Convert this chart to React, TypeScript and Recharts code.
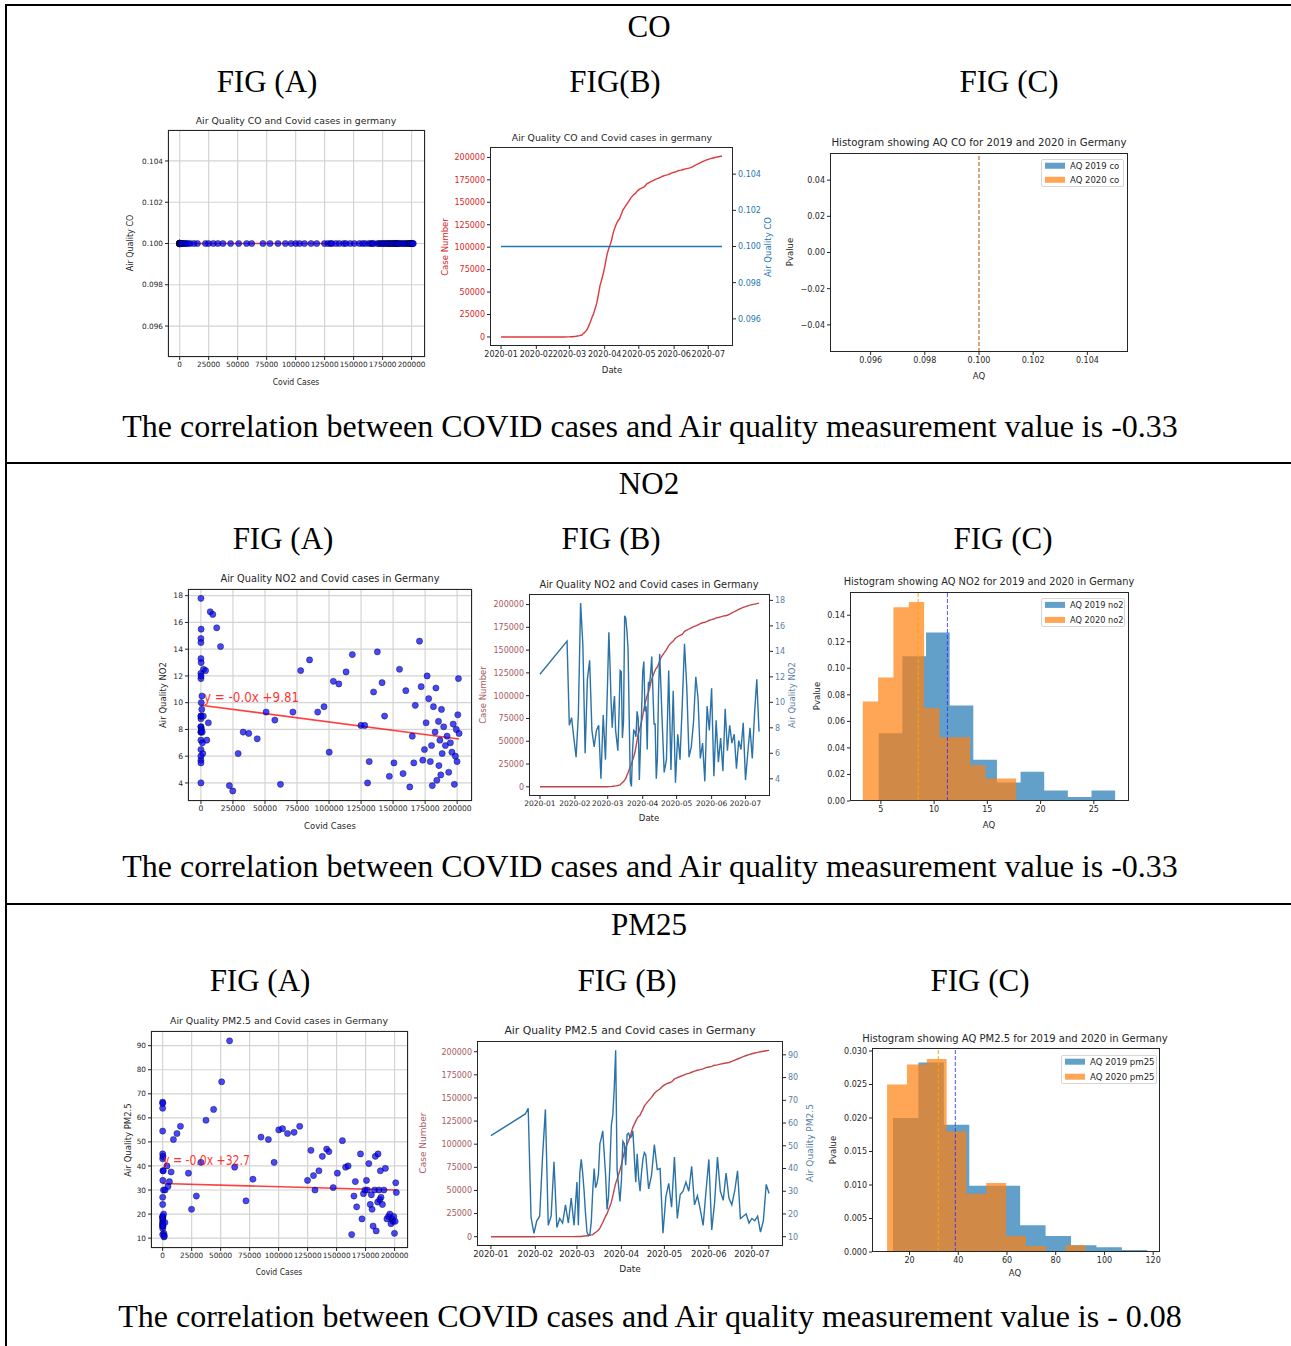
import React from "react"
import { ComposedChart, Scatter, Line, Area, XAxis, YAxis, CartesianGrid } from "recharts"

// sampled dates of the air quality series (Germany, 2020)
const dates = [
  "2020-01-01", "2020-01-25", "2020-01-27", "2020-01-29", "2020-01-31",
  "2020-02-02", "2020-02-04", "2020-02-06", "2020-02-08", "2020-02-10", "2020-02-12", "2020-02-14",
  "2020-02-16", "2020-02-18", "2020-02-20", "2020-02-22", "2020-02-24", "2020-02-26", "2020-02-28",
  "2020-03-01", "2020-03-02", "2020-03-03", "2020-03-04", "2020-03-05", "2020-03-06", "2020-03-07",
  "2020-03-08", "2020-03-09", "2020-03-10", "2020-03-11", "2020-03-12", "2020-03-13", "2020-03-14",
  "2020-03-15", "2020-03-16", "2020-03-17", "2020-03-18", "2020-03-19",
  "2020-03-21", "2020-03-22", "2020-03-23", "2020-03-24", "2020-03-25", "2020-03-26", "2020-03-27",
  "2020-03-28", "2020-03-29",
  "2020-03-31",
  "2020-04-01", "2020-04-02", "2020-04-03", "2020-04-04", "2020-04-05", "2020-04-06", "2020-04-07",
  "2020-04-08", "2020-04-09",
  "2020-04-11", "2020-04-12", "2020-04-13", "2020-04-14", "2020-04-15", "2020-04-16", "2020-04-17",
  "2020-04-18",
  "2020-04-20", "2020-04-22", "2020-04-24", "2020-04-26", "2020-04-28", "2020-04-30",
  "2020-05-02", "2020-05-04", "2020-05-06", "2020-05-08", "2020-05-10", "2020-05-12", "2020-05-14",
  "2020-05-16", "2020-05-18", "2020-05-20", "2020-05-22", "2020-05-24", "2020-05-26", "2020-05-28",
  "2020-05-30",
  "2020-06-01", "2020-06-03", "2020-06-05", "2020-06-07", "2020-06-09", "2020-06-11", "2020-06-13",
  "2020-06-15", "2020-06-17", "2020-06-19", "2020-06-21", "2020-06-23", "2020-06-25", "2020-06-27",
  "2020-06-29",
  "2020-07-01", "2020-07-03", "2020-07-05", "2020-07-07", "2020-07-09", "2020-07-11", "2020-07-13",
]

const cases = [
  0, 0, 1, 4, 5,
  10, 12, 12, 14, 14, 16, 16, 16, 16, 16, 16, 16, 27, 48,
  130, 159, 196, 262, 482, 670, 799, 1040, 1176, 1457, 1908, 2078, 3675, 4585, 5795, 7272, 9257, 12327, 15320,
  22213, 24873, 29056, 32986, 37323, 43938, 50871, 57695, 62095,
  71808,
  77872, 84794, 91159, 96092, 100123, 103374, 107663, 113296, 118181,
  124908, 127854, 130072, 131359, 134753, 137698, 141397, 143342,
  147065, 150648, 154999, 157770, 159912, 163009,
  164967, 166152, 167300, 170588, 171879, 173171, 174478, 175752, 176551, 177778, 179021, 179986, 180600, 181482, 182764,
  183410, 184121, 185416, 185750, 186522, 187226, 187764, 188300, 189500, 190800, 192100, 193400, 194700, 195900, 196900,
  197800, 198600, 199300, 199900, 200500, 201000, 201500,
]

const coValues = [
  0.1, 0.1, 0.1, 0.1, 0.1,
  0.1, 0.1, 0.1, 0.1, 0.1, 0.1, 0.1, 0.1, 0.1, 0.1, 0.1, 0.1, 0.1, 0.1,
  0.1, 0.1, 0.1, 0.1, 0.1, 0.1, 0.1, 0.1, 0.1, 0.1, 0.1, 0.1, 0.1, 0.1, 0.1, 0.1, 0.1, 0.1, 0.1,
  0.1, 0.1, 0.1, 0.1, 0.1, 0.1, 0.1, 0.1, 0.1,
  0.1,
  0.1, 0.1, 0.1, 0.1, 0.1, 0.1, 0.1, 0.1, 0.1,
  0.1, 0.1, 0.1, 0.1, 0.1, 0.1, 0.1, 0.1,
  0.1, 0.1, 0.1, 0.1, 0.1, 0.1,
  0.1, 0.1, 0.1, 0.1, 0.1, 0.1, 0.1, 0.1, 0.1, 0.1, 0.1, 0.1, 0.1, 0.1, 0.1,
  0.1, 0.1, 0.1, 0.1, 0.1, 0.1, 0.1, 0.1, 0.1, 0.1, 0.1, 0.1, 0.1, 0.1, 0.1,
  0.1, 0.1, 0.1, 0.1, 0.1, 0.1, 0.1,
]

const no2Values = [
  12.2, 14.8, 8.2, 8.8, 7.2,
  5.7, 9.0, 17.8, 14.5, 6.0, 11.8, 13.3, 7.8, 6.5, 7.8, 8.2, 4.0, 9.0, 5.5,
  12.0, 15.5, 13.0, 10.0, 8.0, 9.5, 10.5, 7.8, 7.0, 6.2, 9.0, 12.5, 12.4, 7.2, 8.5, 16.8, 16.6, 15.6, 14.2,
  3.8, 3.4, 6.2, 7.8, 7.7, 7.3, 9.3, 8.7, 3.9,
  9.3,
  12.4, 13.2, 9.3, 9.7, 6.3, 11.6, 11.4, 12.3, 13.6,
  8.3, 8.3, 4.0, 5.6, 10.8, 13.8, 11.5, 9.0,
  4.5, 5.5, 12.5, 4.7, 10.9, 3.7,
  7.5, 5.5, 9.8, 14.6, 11.2, 5.7, 6.5, 8.5, 12.0, 10.3, 5.6, 6.8, 3.8, 9.7, 7.8,
  11.1, 4.2, 8.6, 5.3, 7.2, 4.6, 9.5, 6.2, 8.2, 6.8, 7.5, 4.8, 7.0, 6.3, 8.4,
  3.9, 6.0, 8.0, 5.6, 9.1, 11.8, 7.7,
]

const pm25Values = [
  54.5, 64, 66.5, 18.5, 11.5,
  17, 19, 45, 66, 15, 19, 43, 14, 18, 16, 24, 16, 27, 15,
  34, 15, 38, 44, 38, 30, 20, 12, 10.5, 11, 16.5, 30, 40, 31.5, 33.5, 37.5, 51, 53.5, 56.5,
  37, 22, 27.5, 41.5, 59, 63.5, 75, 92, 39.5,
  25.5,
  34.5, 52, 51, 41.5, 55, 55.5, 53.5, 54, 56.5,
  34, 46.5, 36, 30, 38, 44, 47, 46,
  31, 37, 50.5, 39.5, 40, 11.5,
  27.5, 33.5, 23, 45, 18, 28.5, 30, 34, 30, 41, 24, 28, 22, 15, 30,
  44, 13, 25, 45, 30, 26, 38, 27, 24, 30, 39, 18, 19, 20, 16,
  18, 17, 19, 12, 17, 33, 29,
]

// regression: [intercept, slope]
const coFit = [0.1, 0]
const no2Fit = [9.81, -0.0000125]
const pm25Fit = [32.7, -0.0000134]

// histograms (density) for 2019 and 2020
const no2Edges2019 = [4.8, 7.02, 9.24, 11.46, 13.68, 15.9, 18.12, 20.34, 22.56, 24.78, 27.0]
const no2Density2019 = [0.051, 0.109, 0.127, 0.072, 0.031, 0.014, 0.022, 0.008, 0.003, 0.008]
const no2Edges2020 = [3.3, 4.74, 6.18, 7.62, 9.06, 10.5, 11.94, 13.38, 14.82, 16.26, 17.7]
const no2Density2020 = [0.075, 0.093, 0.146, 0.15, 0.07, 0.048, 0.048, 0.027, 0.017, 0.017]
const pm25Edges2019 = [13.2, 23.64, 34.08, 44.52, 54.96, 65.4, 75.84, 86.28, 96.72, 107.16, 117.6]
const pm25Density2019 = [0.02, 0.0283, 0.019, 0.0099, 0.0099, 0.004, 0.0024, 0.001, 0.0007, 0.0003]
const pm25Edges2020 = [10.8, 18.94, 27.08, 35.22, 43.36, 51.5, 59.64, 67.78, 75.92, 84.06, 92.2]
const pm25Density2020 = [0.025, 0.028, 0.0288, 0.018, 0.0087, 0.0103, 0.0024, 0.0009, 0, 0.001]

// means [2019, 2020]
const coMeans = [0.1, 0.1]
const no2Means = [11.25, 8.5]
const pm25Means = [38.8, 31.8]

const caseTicks = [0, 25000, 50000, 75000, 100000, 125000, 150000, 175000, 200000]
const monthTicks = ["2020-01", "2020-02", "2020-03", "2020-04", "2020-05", "2020-06", "2020-07"]
const coTicks = [0.096, 0.098, 0.1, 0.102, 0.104]
const coPvalTicks = [-0.04, -0.02, 0, 0.02, 0.04]
const no2Ticks = [4, 6, 8, 10, 12, 14, 16, 18]
const pm25Ticks = [10, 20, 30, 40, 50, 60, 70, 80, 90]
const no2HistTicks = [5, 10, 15, 20, 25]
const no2PvalTicks = [0, 0.02, 0.04, 0.06, 0.08, 0.1, 0.12, 0.14]
const pm25HistTicks = [20, 40, 60, 80, 100, 120]
const pm25PvalTicks = [0, 0.005, 0.01, 0.015, 0.02, 0.025, 0.03]

const SANS = "'DejaVu Sans', 'Liberation Sans', sans-serif"
const SERIF = "'Liberation Serif', 'Times New Roman', serif"
const INK = "#262626"
const M = 4

const dayOf = (s: string) => Math.round((Date.parse(s) - Date.parse("2020-01-01")) / 86400000)
const monthDays = monthTicks.map((m) => dayOf(m + "-01"))
const caseDomain = [-10075, 211575]
const dayDomain = [-9.7, 203.7]

type Box = { x: number; y: number; w: number; h: number }

const place = (b: Box, yl: number, yr: number, xh: number) => ({
  style: { position: "absolute" as const, left: b.x - yl - M, top: b.y - M },
  width: b.w + yl + yr + 2 * M,
  height: b.h + xh + 2 * M,
})

const tk = (size: number, fill = INK) => ({ fontSize: size, fill, fontFamily: SANS })
const margin = { top: M, right: M, bottom: M, left: M }

function Txt({ x, y, s, children, rot, color = INK, family = SANS, sx = 1 }: any) {
  const t = `translate(-50%,-50%)${rot ? ` rotate(${rot}deg)` : ""}${sx !== 1 ? ` scaleX(${sx})` : ""}`
  return (
    <div style={{ position: "absolute", left: x, top: y, transform: t, fontSize: s, fontFamily: family, color, whiteSpace: "nowrap", lineHeight: 1 }}>
      {children}
    </div>
  )
}

function Spines({ b }: { b: Box }) {
  return <div style={{ position: "absolute", left: b.x, top: b.y, width: b.w, height: b.h, border: `1px solid ${INK}`, boxSizing: "border-box", pointerEvents: "none" }} />
}

const blueDot = (p: any) => (
  <circle cx={p.cx} cy={p.cy} r={3.1} fill="#0000ff" fillOpacity={0.72} stroke="#000" strokeOpacity={0.55} strokeWidth={0.7} />
)

function ScatterPanel({ b, aq, fit, yDomain, yTicks, yFmt, fs }: any) {
  const pts = cases.map((c, i) => ({ x: c, y: aq[i] }))
  const xMax = Math.max(...cases)
  const fitLine = [{ x: 0, y: fit[0] }, { x: xMax, y: fit[0] + fit[1] * xMax }]
  const p = place(b, 40, 0, 20)
  return (
    <>
      <div style={p.style}>
        <ComposedChart width={p.width} height={p.height} margin={margin}>
          <CartesianGrid stroke="#d4d4d4" strokeWidth={1.2} />
          <XAxis type="number" dataKey="x" domain={caseDomain} ticks={caseTicks} interval={0} allowDataOverflow axisLine={false}
            tick={tk(fs)} tickLine={{ stroke: INK }} tickSize={3} height={20} />
          <YAxis type="number" dataKey="y" domain={yDomain} ticks={yTicks} interval={0} allowDataOverflow axisLine={false}
            tick={tk(fs)} tickLine={{ stroke: INK }} tickSize={3} width={40} tickFormatter={yFmt} />
          <Scatter data={pts} shape={blueDot} isAnimationActive={false} />
          <Line data={fitLine} dataKey="y" stroke="#ff0000" strokeOpacity={0.75} strokeWidth={1.6} dot={false} isAnimationActive={false} />
        </ComposedChart>
      </div>
      <Spines b={b} />
    </>
  )
}

function DualPanel({ b, aq, aqDomain, aqTicks, aqFmt, caseColor, aqColor, leftTick, rightTick, fs = 8 }: any) {
  const rows = dates.map((d, i) => ({ day: dayOf(d), cases: cases[i], aq: aq[i] }))
  const p = place(b, 45, 40, 20)
  return (
    <>
      <div style={p.style}>
        <ComposedChart width={p.width} height={p.height} margin={margin} data={rows}>
          <XAxis type="number" dataKey="day" domain={dayDomain} ticks={monthDays} interval={0} allowDataOverflow axisLine={false}
            tickFormatter={(v: number) => monthTicks[monthDays.indexOf(v)] ?? ""}
            tick={tk(fs)} tickLine={{ stroke: INK }} tickSize={3} height={20} />
          <YAxis yAxisId="l" type="number" domain={caseDomain} ticks={caseTicks} interval={0} allowDataOverflow axisLine={false}
            tick={tk(8, leftTick)} tickLine={{ stroke: INK }} tickSize={3} width={45} />
          <YAxis yAxisId="r" orientation="right" type="number" domain={aqDomain} ticks={aqTicks} interval={0} allowDataOverflow axisLine={false}
            tick={tk(8, rightTick)} tickLine={{ stroke: INK }} tickSize={3} width={40} tickFormatter={aqFmt} />
          <Line yAxisId="l" dataKey="cases" stroke={caseColor} strokeWidth={1.4} dot={false} isAnimationActive={false} />
          <Line yAxisId="r" dataKey="aq" stroke={aqColor} strokeWidth={1.4} dot={false} isAnimationActive={false} />
        </ComposedChart>
      </div>
      <Spines b={b} />
    </>
  )
}

const histRows = (edges: number[], dens: number[]) =>
  edges.map((e, i) => ({ x: e, y: dens[Math.min(i, dens.length - 1)] }))

function HistPanel({ b, xDomain, xTicks, xFmt, yDomain, yTicks, yFmt, h2019, h2020, means }: any) {
  const p = place(b, 40, 0, 20)
  // vertical mean markers spanning the whole y range
  const meanRows = (m: number) => [{ x: m, y: yDomain[0] }, { x: m, y: yDomain[1] }]
  return (
    <>
      <div style={p.style}>
        <ComposedChart width={p.width} height={p.height} margin={margin} data={[{ x: means[0], y: yDomain[0] }]}>
          <XAxis type="number" dataKey="x" domain={xDomain} ticks={xTicks} interval={0} allowDataOverflow axisLine={false}
            tick={tk(8)} tickLine={{ stroke: INK }} tickSize={3} height={20} tickFormatter={xFmt} />
          <YAxis type="number" dataKey="y" domain={yDomain} ticks={yTicks} interval={0} allowDataOverflow axisLine={false}
            tick={tk(8)} tickLine={{ stroke: INK }} tickSize={3} width={40} tickFormatter={yFmt} />
          {h2019 && <Area data={h2019} dataKey="y" type="stepAfter" fill="#1f77b4" fillOpacity={0.7} stroke="none" isAnimationActive={false} />}
          {h2020 && <Area data={h2020} dataKey="y" type="stepAfter" fill="#ff7f0e" fillOpacity={0.7} stroke="none" isAnimationActive={false} />}
          <Line data={meanRows(means[0])} dataKey="y" stroke="#2a2aff" strokeOpacity={0.8} strokeWidth={1} strokeDasharray="4 2" dot={false} isAnimationActive={false} />
          <Line data={meanRows(means[1])} dataKey="y" stroke="#ffa500" strokeWidth={1} strokeDasharray="4 2" dot={false} isAnimationActive={false} />
        </ComposedChart>
      </div>
      <Spines b={b} />
    </>
  )
}

function HistLegend({ x, y, w, h, labels, fs, rows }: any) {
  const colors = ["#1f77b4", "#ff7f0e"]
  return (
    <div style={{ position: "absolute", left: x, top: y, width: w, height: h, border: "1px solid #d6d6d6", borderRadius: 2, background: "rgba(255,255,255,0.85)", boxSizing: "border-box" }}>
      {labels.map((t: string, i: number) => (
        <div key={t} style={{ position: "absolute", left: 3, top: rows[i], transform: "translateY(-50%)", display: "flex", alignItems: "center", whiteSpace: "nowrap" }}>
          <span style={{ width: 20, height: 6, background: colors[i], opacity: 0.7, marginRight: 5, flexShrink: 0 }} />
          <span style={{ fontSize: fs, fontFamily: SANS, color: INK, lineHeight: 1, whiteSpace: "nowrap" }}>{t}</span>
        </div>
      ))}
    </div>
  )
}

const f3 = (v: number) => v.toFixed(3)
const f2 = (v: number) => v.toFixed(2)
const signed2 = (v: number) => (v < 0 ? "\u2212" + Math.abs(v).toFixed(2) : v.toFixed(2))
const Rule = ({ x, y, w, h }: any) => <div style={{ position: "absolute", left: x, top: y, width: w, height: h, background: "#000" }} />

export default function App() {
  const fig = 31
  const corr = 32
  return (
    <div style={{ position: "absolute", left: 0, top: 0, width: 1291, height: 1346, background: "#fff", overflow: "hidden" }}>
      <Rule x={5} y={4} w={1300} h={2} />
      <Rule x={5} y={4} w={2} h={1350} />
      <Rule x={5} y={462} w={1300} h={2} />
      <Rule x={5} y={903} w={1300} h={2} />

      {/* CO */}
      <Txt x={649} y={26} s={fig} family={SERIF} color="#000">CO</Txt>
      <Txt x={267} y={81} s={fig} family={SERIF} color="#000">FIG (A)</Txt>
      <Txt x={615} y={81} s={fig} family={SERIF} color="#000">FIG(B)</Txt>
      <Txt x={1009} y={81} s={fig} family={SERIF} color="#000">FIG (C)</Txt>

      <Txt x={296} y={121} s={9.5} sx={0.98}>Air Quality CO and Covid cases in germany</Txt>
      <ScatterPanel b={{ x: 168, y: 130, w: 257, h: 227 }} aq={coValues} fit={coFit} yDomain={[0.0945, 0.1055]} yTicks={coTicks} yFmt={f3} fs={7.3} />
      <Txt x={131} y={243} s={8} rot={-90}>Air Quality CO</Txt>
      <Txt x={296} y={382} s={8.5} sx={0.9}>Covid Cases</Txt>

      <Txt x={612} y={138} s={9.3}>Air Quality CO and Covid cases in germany</Txt>
      <DualPanel b={{ x: 490, y: 147, w: 243, h: 199 }} aq={coValues} aqDomain={[0.0945, 0.1055]} aqTicks={coTicks} aqFmt={f3}
        caseColor="#e0383c" aqColor="#1f77b4" leftTick="#d62728" rightTick="#1f77b4" />
      <Txt x={445} y={247} s={8.5} rot={-90} color="#d62728">Case Number</Txt>
      <Txt x={768} y={247} s={8.5} rot={-90} color="#1f77b4">Air Quality CO</Txt>
      <Txt x={612} y={370} s={8.5}>Date</Txt>

      <Txt x={979} y={143} s={10.2}>Histogram showing AQ CO for 2019 and 2020 in Germany</Txt>
      <HistPanel b={{ x: 830, y: 153, w: 298, h: 199 }} xDomain={[0.0945, 0.1055]} xTicks={coTicks} xFmt={f3}
        yDomain={[-0.055, 0.055]} yTicks={coPvalTicks} yFmt={signed2} means={coMeans} />
      <HistLegend x={1041} y={159} w={83} h={28} labels={["AQ 2019 co", "AQ 2020 co"]} fs={8.5} rows={[6, 20]} />
      <Txt x={790} y={252} s={8.5} rot={-90}>Pvalue</Txt>
      <Txt x={979} y={376} s={8.5}>AQ</Txt>

      <Txt x={650} y={426} s={corr} family={SERIF} color="#000">The correlation between COVID cases and Air quality measurement value is -0.33</Txt>

      {/* NO2 */}
      <Txt x={649} y={483} s={fig} family={SERIF} color="#000">NO2</Txt>
      <Txt x={283} y={538} s={fig} family={SERIF} color="#000">FIG (A)</Txt>
      <Txt x={611} y={538} s={fig} family={SERIF} color="#000">FIG (B)</Txt>
      <Txt x={1003} y={538} s={fig} family={SERIF} color="#000">FIG (C)</Txt>

      <Txt x={330} y={579} s={9.8}>Air Quality NO2 and Covid cases in Germany</Txt>
      <ScatterPanel b={{ x: 188, y: 589, w: 284, h: 212 }} aq={no2Values} fit={no2Fit} yDomain={[2.65, 18.5]} yTicks={no2Ticks} fs={7.6} />
      <div style={{ position: "absolute", left: 204, top: 697, transform: "translateY(-50%) scaleX(0.85)", transformOrigin: "left center", fontSize: 14, fontFamily: SANS, color: "#ff0000", opacity: 0.8, whiteSpace: "nowrap", lineHeight: 1 }}>y = -0.0x +9.81</div>
      <Txt x={163} y={695} s={8.5} rot={-90}>Air Quality NO2</Txt>
      <Txt x={330} y={826} s={8.5}>Covid Cases</Txt>

      <Txt x={649} y={585} s={9.8}>Air Quality NO2 and Covid cases in Germany</Txt>
      <DualPanel b={{ x: 529, y: 594, w: 241, h: 202 }} aq={no2Values} aqDomain={[2.65, 18.5]} aqTicks={no2Ticks} fs={7.5}
        caseColor="#c0464c" aqColor="#2a72a8" leftTick="#a85a62" rightTick="#5a7fa0" />
      <Txt x={483} y={695} s={8.5} rot={-90} color="#a85a62">Case Number</Txt>
      <Txt x={792} y={695} s={8.5} rot={-90} color="#5a7fa0">Air Quality NO2</Txt>
      <Txt x={649} y={818} s={8.5}>Date</Txt>

      <Txt x={989} y={582} s={9.8}>Histogram showing AQ NO2 for 2019 and 2020 in Germany</Txt>
      <HistPanel b={{ x: 850, y: 592, w: 279, h: 209 }} xDomain={[2.1, 28.3]} xTicks={no2HistTicks}
        yDomain={[0, 0.1575]} yTicks={no2PvalTicks} yFmt={f2} means={no2Means}
        h2019={histRows(no2Edges2019, no2Density2019)} h2020={histRows(no2Edges2020, no2Density2020)} />
      <HistLegend x={1041} y={598} w={84} h={29} labels={["AQ 2019 no2", "AQ 2020 no2"]} fs={8.2} rows={[6, 20.5]} />
      <Txt x={817} y={696} s={8.5} rot={-90}>Pvalue</Txt>
      <Txt x={989} y={825} s={8.5}>AQ</Txt>

      <Txt x={650} y={866} s={corr} family={SERIF} color="#000">The correlation between COVID cases and Air quality measurement value is -0.33</Txt>

      {/* PM25 */}
      <Txt x={649} y={924} s={fig} family={SERIF} color="#000">PM25</Txt>
      <Txt x={260} y={980} s={fig} family={SERIF} color="#000">FIG (A)</Txt>
      <Txt x={627} y={980} s={fig} family={SERIF} color="#000">FIG (B)</Txt>
      <Txt x={980} y={980} s={fig} family={SERIF} color="#000">FIG (C)</Txt>

      <Txt x={279} y={1021} s={9.4}>Air Quality PM2.5 and Covid cases in Germany</Txt>
      <ScatterPanel b={{ x: 151, y: 1031, w: 257, h: 217 }} aq={pm25Values} fit={pm25Fit} yDomain={[5.9, 96.1]} yTicks={pm25Ticks} fs={7.3} />
      <div style={{ position: "absolute", left: 163, top: 1160, transform: "translateY(-50%) scaleX(0.75)", transformOrigin: "left center", fontSize: 14.5, fontFamily: SANS, color: "#ff0000", opacity: 0.8, whiteSpace: "nowrap", lineHeight: 1 }}>y = -0.0x +32.7</div>
      <Txt x={128} y={1140} s={8.5} rot={-90}>Air Quality PM2.5</Txt>
      <Txt x={279} y={1272} s={8.5} sx={0.9}>Covid Cases</Txt>

      <Txt x={630} y={1031} s={10.8}>Air Quality PM2.5 and Covid cases in Germany</Txt>
      <DualPanel b={{ x: 477, y: 1041, w: 306, h: 205 }} aq={pm25Values} aqDomain={[5.9, 96.1]} aqTicks={pm25Ticks} fs={8.5}
        caseColor="#c0464c" aqColor="#2a72a8" leftTick="#a85a62" rightTick="#5a7fa0" />
      <Txt x={423} y={1143} s={9} rot={-90} color="#a85a62">Case Number</Txt>
      <Txt x={810} y={1143} s={9} rot={-90} color="#5a7fa0">Air Quality PM2.5</Txt>
      <Txt x={630} y={1269} s={9}>Date</Txt>

      <Txt x={1015} y={1039} s={10}>Histogram showing AQ PM2.5 for 2019 and 2020 in Germany</Txt>
      <HistPanel b={{ x: 872, y: 1048, w: 288, h: 204 }} xDomain={[4.6, 122.8]} xTicks={pm25HistTicks}
        yDomain={[0, 0.03045]} yTicks={pm25PvalTicks} yFmt={f3} means={pm25Means}
        h2019={histRows(pm25Edges2019, pm25Density2019)} h2020={histRows(pm25Edges2020, pm25Density2020)} />
      <HistLegend x={1061} y={1055} w={96} h={29} labels={["AQ 2019 pm25", "AQ 2020 pm25"]} fs={8.6} rows={[6, 20.5]} />
      <Txt x={833} y={1150} s={8.5} rot={-90}>Pvalue</Txt>
      <Txt x={1015} y={1273} s={8.5}>AQ</Txt>

      <Txt x={650} y={1316} s={corr} family={SERIF} color="#000">The correlation between COVID cases and Air quality measurement value is - 0.08</Txt>
    </div>
  )
}
